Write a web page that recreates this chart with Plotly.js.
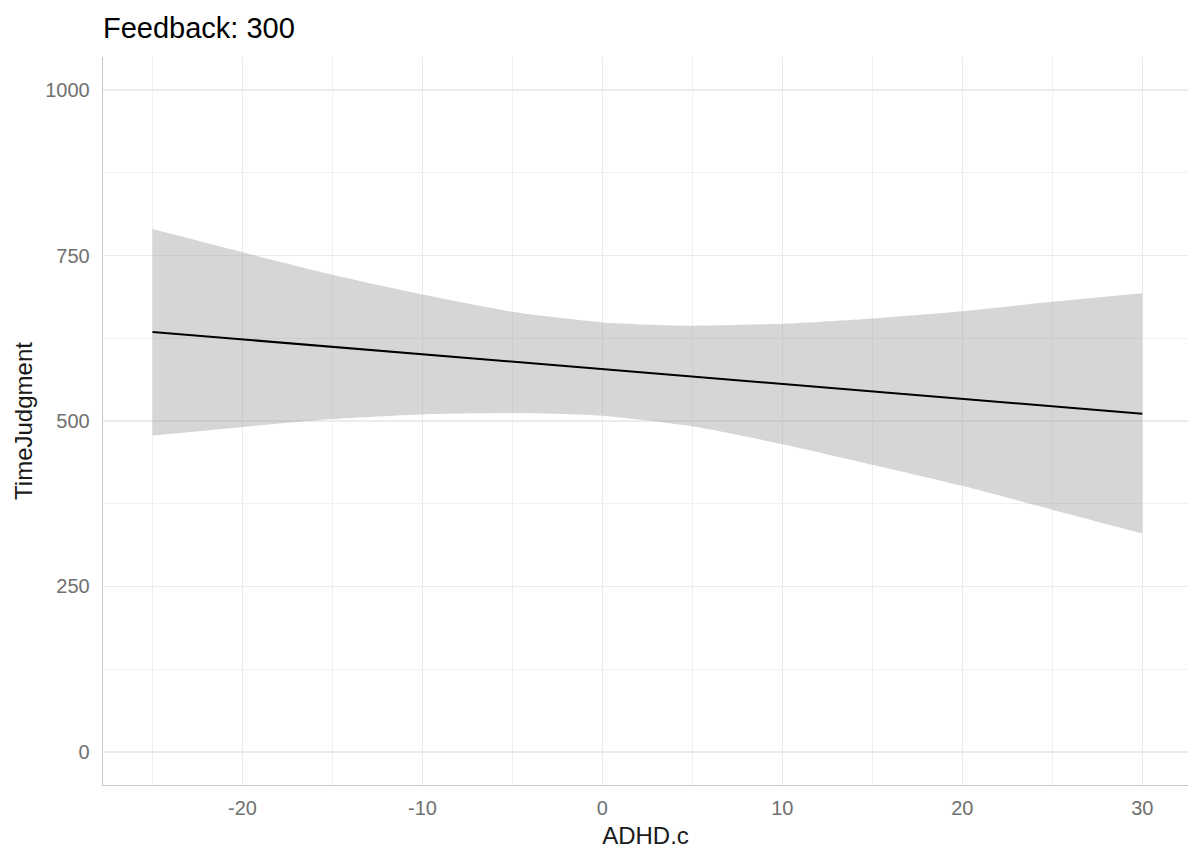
<!DOCTYPE html>
<html>
<head>
<meta charset="utf-8">
<script src="https://cdn.plot.ly/plotly-3.0.1.min.js"></script>
<style>html,body{margin:0;padding:0;background:#fff;}#chart{width:1188px;height:850px;}</style>
</head>
<body>
<div id="chart"></div>
<script>
const adhd = [-25, -20, -15, -10, -5, 0, 5, 10, 15, 20, 25, 30];
const fitValues = [634.5, 623.3, 612.0, 600.8, 589.6, 578.4, 567.1, 555.9, 544.7, 533.4, 522.2, 511.0];
const upperCI = [790, 755, 721, 691, 665, 649, 644, 647, 655, 666, 680, 693];
const lowerCI = [478, 491, 503, 510, 512, 508, 492, 465, 434, 402, 366, 330];
const xTicks = [-20, -10, 0, 10, 20, 30];
const yTicks = [0, 250, 500, 750, 1000];

const FONT = "Liberation Sans, Arial, sans-serif";

const traces = [
  {x: adhd, y: lowerCI, type: 'scatter', mode: 'lines', line: {width: 0, shape: 'spline', smoothing: 0.6}, hoverinfo: 'skip', showlegend: false},
  {x: adhd, y: upperCI, type: 'scatter', mode: 'lines', fill: 'tonexty', fillcolor: 'rgba(153,153,153,0.4)', line: {width: 0, shape: 'spline', smoothing: 0.6}, hoverinfo: 'skip', showlegend: false},
  {x: adhd, y: fitValues, type: 'scatter', mode: 'lines', line: {color: '#000000', width: 2}, showlegend: false}
];

const layout = {
  width: 1188, height: 850,
  paper_bgcolor: '#ffffff', plot_bgcolor: '#ffffff',
  margin: {l: 103, r: 0, t: 57, b: 65, pad: 0},
  font: {family: FONT, color: '#000'},
  title: {text: 'Feedback: 300', font: {family: FONT, size: 29, color: '#000'}, xref: 'paper', x: 0, xanchor: 'left', yref: 'container', y: 1 - 28/850, yanchor: 'middle'},
  xaxis: {
    range: [-27.75, 32.54], tickvals: xTicks, ticktext: xTicks.map(String),
    showgrid: true, gridcolor: '#ebebeb', gridwidth: 1.2,
    minor: {dtick: 5, tick0: 0, showgrid: true, gridcolor: '#ebebeb', gridwidth: 0.7},
    zeroline: false, showline: true, linecolor: '#c8c8c8', linewidth: 1.3,
    ticks: '', ticklabelstandoff: 5, tickfont: {family: FONT, size: 20, color: '#707070'},
    title: {text: 'ADHD.c', font: {family: FONT, size: 24, color: '#1a1a1a'}, standoff: 9},
    automargin: false
  },
  yaxis: {
    range: [-50, 1050], tickvals: yTicks, ticktext: yTicks.map(String),
    showgrid: true, gridcolor: '#ebebeb', gridwidth: 1.2,
    minor: {dtick: 125, tick0: 0, showgrid: true, gridcolor: '#ebebeb', gridwidth: 0.7},
    zeroline: false, showline: true, linecolor: '#c8c8c8', linewidth: 1.3,
    ticks: '', ticklabelstandoff: 8, tickfont: {family: FONT, size: 20, color: '#707070'},
    title: {text: 'TimeJudgment', font: {family: FONT, size: 24, color: '#1a1a1a'}, standoff: 5},
    automargin: false
  }
};

Plotly.newPlot('chart', traces, layout, {staticPlot: true, displayModeBar: false});
</script>
</body>
</html>
